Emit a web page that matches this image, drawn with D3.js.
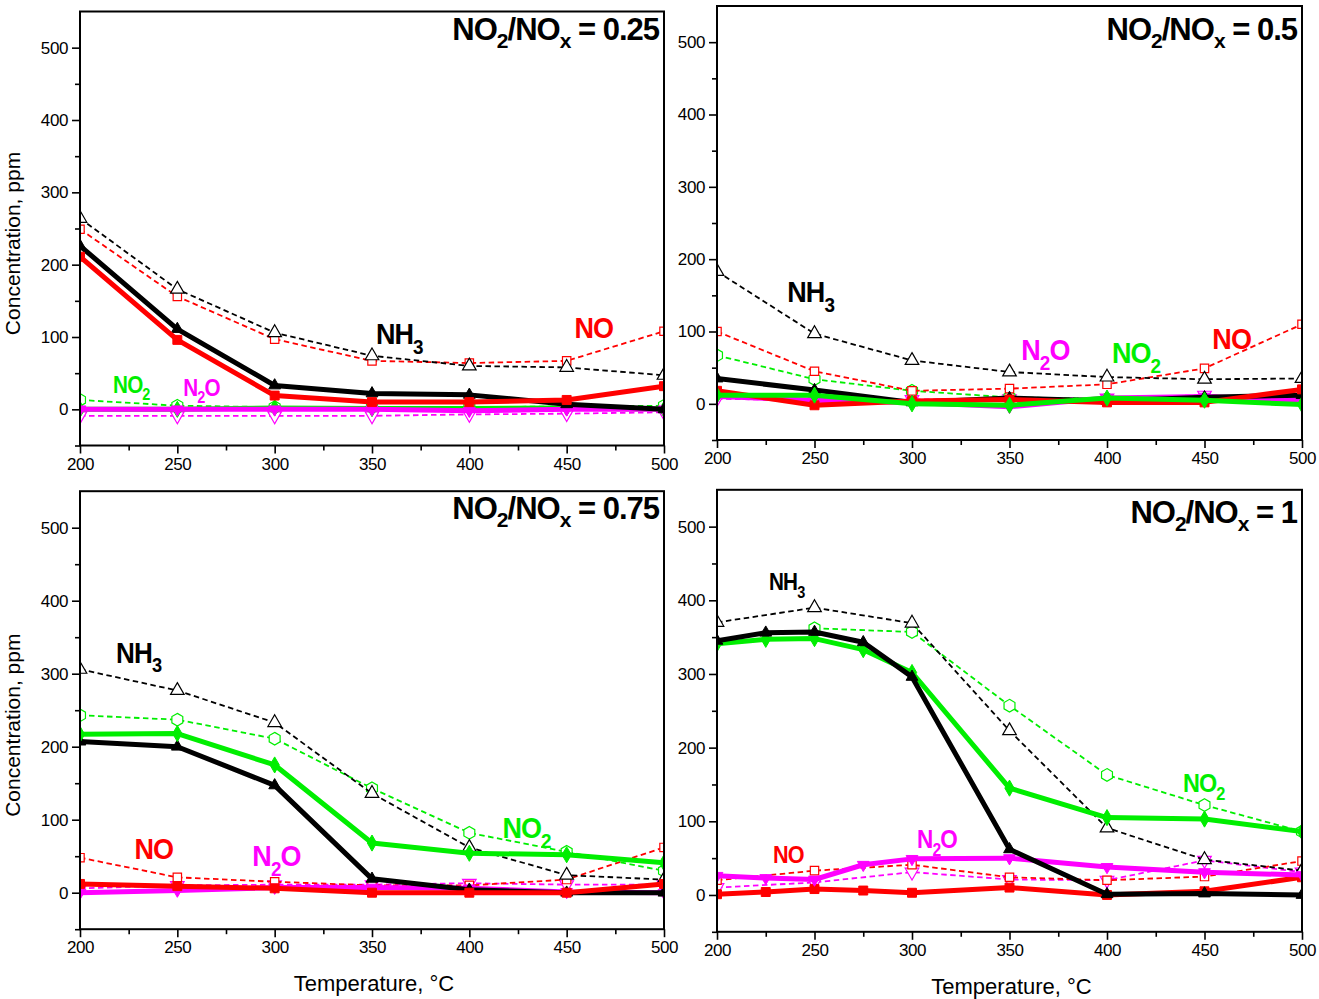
<!DOCTYPE html>
<html><head><meta charset="utf-8">
<script src="https://cdn.jsdelivr.net/npm/d3@7"></script>
<style>body{margin:0;background:#fff}svg{display:block}</style>
</head><body><svg id="c" width="1319" height="999"></svg>
<script>
// ---------- data ----------
const temps = [200,250,300,350,400,450,500];
const tempsFine = [200,225,250,275,300,350,400,450,500];
const xTicks = [200,250,300,350,400,450,500];
const xMinor = [225,275,325,375,425,475];
const yTicks = [0,100,200,300,400,500];
const yMinor = [-50,50,150,250,350,450];
const panelTitles = ["0.25","0.5","0.75","1"];

// NO2/NOx = 0.25  (dashed = open symbols, solid = filled symbols)
const a_NH3_in  = [264,166,106,74,60,58,47];
const a_NO_in   = [249,156,97,67,64,67,108];
const a_NO2_in  = [13,5,3,3,3,4,5];
const a_N2O_in  = [-9,-9,-9,-9,-7,-6,-4];
const a_NH3_out = [226,111,33,22,20,7,0];
const a_NO_out  = [211,96,19,10,10,13,32];
const a_NO2_out = [0,0,2,1,1,2,0];
const a_N2O_out = [0,0,0,0,-2,0,0];

// NO2/NOx = 0.5
const b_NH3_in  = [183,97,60,44,37,34,35];
const b_NO_in   = [100,45,18,21,27,49,110];
const b_NO2_in  = [67,34,18,9,7,6,4];
const b_N2O_in  = [7,5,6,7,8,12,6];
const b_NH3_out = [35,19,2,8,4,9,12];
const b_NO_out  = [18,-2,4,6,2,2,20];
const b_NO2_out = [12,12,0,-2,8,5,-1];
const b_N2O_out = [10,5,2,-4,8,10,5];

// NO2/NOx = 0.75
const c_NH3_in  = [306,277,233,136,62,24,18];
const c_NO_in   = [48,21,15,10,10,18,62];
const c_NO2_in  = [243,237,211,143,82,56,30];
const c_N2O_in  = [6,10,11,11,13,11,11];
const c_NH3_out = [207,200,147,19,4,0,0];
const c_NO_out  = [12,9,6,0,0,0,12];
const c_NO2_out = [217,218,175,68,54,52,41];
const c_N2O_out = [0,3,7,7,6,1,0];

// NO2/NOx = 1 (solid series measured on tempsFine)
const d_NH3_in  = [370,390,369,223,91,48,33];
const d_NO_in   = [20,33,41,24,20,25,46];
const d_NO2_in  = [null,362,357,257,163,122,86];
const d_N2O_in  = [10,17,31,21,20,47,31];
const d_NH3_out = [345,356,357,343,296,62,1,2,0];
const d_NO_out  = [1,4,8,6,3,10,0,5,24];
const d_NO2_out = [341,347,348,333,302,145,105,103,86];
const d_N2O_out = [26,23,21,41,49,50,38,31,27];

// ---------- styles ----------
const C = {NH3:"#000000", NO:"#ff0000", NO2:"#00ee00", N2O:"#ff00ff"};
const FONT = "'Liberation Sans', Arial, sans-serif";

const svg = d3.select("#c");

function mk(name, tx, ys, solid){ return {name, tx, ys, solid}; }

const panels = [
  {box:{l:80,r:664,t:11.5,b:445.5}, titleDy:28.5, yTitle:true, xTitle:false,
   series:[mk("N2O",temps,a_N2O_in,false),mk("NO2",temps,a_NO2_in,false),mk("NO",temps,a_NO_in,false),mk("NH3",temps,a_NH3_in,false),
           mk("NO2",temps,a_NO2_out,true),mk("N2O",temps,a_N2O_out,true),mk("NH3",temps,a_NH3_out,true),mk("NO",temps,a_NO_out,true)],
   labels:[["NH3",352,90,30],["NO",454,98,30],["NO2",217,23,23],["N2O",253,19,23]]},
  {box:{l:717,r:1302,t:6,b:440}, titleDy:34, yTitle:false, xTitle:false,
   series:[mk("N2O",temps,b_N2O_in,false),mk("NO2",temps,b_NO2_in,false),mk("NO",temps,b_NO_in,false),mk("NH3",temps,b_NH3_in,false),
           mk("N2O",temps,b_N2O_out,true),mk("NH3",temps,b_NH3_out,true),mk("NO",temps,b_NO_out,true),mk("NO2",temps,b_NO2_out,true)],
   labels:[["NH3",236,141,30],["N2O",356,61,30],["NO2",402.5,56,30],["NO",454,76,30]]},
  {box:{l:80,r:664,t:491.2,b:929.2}, titleDy:28, yTitle:true, xTitle:true,
   series:[mk("N2O",temps,c_N2O_in,false),mk("NO",temps,c_NO_in,false),mk("NO2",temps,c_NO2_in,false),mk("NH3",temps,c_NH3_in,false),
           mk("N2O",temps,c_N2O_out,true),mk("NH3",temps,c_NH3_out,true),mk("NO2",temps,c_NO2_out,true),mk("NO",temps,c_NO_out,true)],
   labels:[["NH3",218.5,315,29],["NO",228,46,30],["N2O",288.5,37,30],["NO2",417,75,30]]},
  {box:{l:717,r:1302,t:489.8,b:931.8}, titleDy:33, yTitle:false, xTitle:true,
   series:[mk("N2O",temps,d_N2O_in,false),mk("NO",temps,d_NO_in,false),mk("NO2",temps,d_NO2_in,false),mk("NH3",temps,d_NH3_in,false),
           mk("NO",tempsFine,d_NO_out,true),mk("N2O",tempsFine,d_N2O_out,true),mk("NO2",tempsFine,d_NO2_out,true),mk("NH3",tempsFine,d_NH3_out,true)],
   labels:[["NH3",226.7,414,23],["NO",228.7,43,24],["N2O",302.6,64,25],["NO2",439,140,26]]}
];

const hexPath = r => { const p=[]; for(let i=0;i<6;i++){const a=Math.PI/3*i - Math.PI/2; p.push([r*Math.cos(a), r*Math.sin(a)]);} return "M"+p.map(q=>q.join(",")).join("L")+"Z"; };

function markerPath(name, solid){
  if(name==="NH3") return {d:d3.symbol(d3.symbolTriangle, solid?60:80)(), rot:0};
  if(name==="NO")  return {d:d3.symbol(d3.symbolSquare, solid?80:70)(), rot:0};
  if(name==="NO2") return solid ? {d:d3.symbol(d3.symbolDiamond, 75)(), rot:0} : {d:hexPath(6.3), rot:0};
  return {d:d3.symbol(d3.symbolTriangle, solid?60:80)(), rot:180};
}

function subText(sel, name, size){
  const parts = {NH3:[["NH",0],["3",1]], NO:[["NO",0]], NO2:[["NO",0],["2",1]], N2O:[["N",0],["2",1],["O",0]]}[name];
  let shifted = false;
  parts.forEach(([t,s])=>{
    const ts = sel.append("tspan").text(t);
    if(s){ ts.attr("font-size", size*0.7).attr("dy", size*0.33); shifted=true; }
    else if(shifted){ ts.attr("dy", -size*0.33); shifted=false; }
  });
}

panels.forEach((P,pi)=>{
  const b = P.box;
  const x = d3.scaleLinear().domain([200,500]).range([b.l,b.r]);
  const y = d3.scaleLinear().domain([-50,550]).range([b.b,b.t]);
  const g = svg.append("g");
  const clipId = "clip"+pi;
  g.append("clipPath").attr("id",clipId).append("rect")
    .attr("x",b.l).attr("y",b.t).attr("width",b.r-b.l).attr("height",b.b-b.t);
  const plot = g.append("g").attr("clip-path",`url(#${clipId})`);

  P.series.forEach(S=>{
    const col = C[S.name];
    const pts = S.tx.map((t,i)=>[t,S.ys[i]]);
    const line = d3.line().defined(d=>d[1]!=null).x(d=>x(d[0])).y(d=>y(d[1]));
    plot.append("path").attr("d",line(pts)).attr("fill","none").attr("stroke",col)
      .attr("stroke-width", S.solid?5:1.8).attr("stroke-dasharray", S.solid?null:"5.5,3.5")
      .attr("stroke-linejoin","round");
    const m = markerPath(S.name,S.solid);
    plot.selectAll(null).data(pts.filter(d=>d[1]!=null)).enter().append("path")
      .attr("d",m.d)
      .attr("transform",d=>`translate(${x(d[0])},${y(d[1])}) rotate(${m.rot})`)
      .attr("fill", S.solid?col:"#fff").attr("stroke",col).attr("stroke-width", S.solid?1:1.2);
  });

  // axes
  const fmt = d3.format("d");
  const ax = g.append("g").attr("transform",`translate(0,${b.b})`)
    .call(d3.axisBottom(x).tickValues(xTicks).tickSize(8).tickPadding(4).tickFormat(fmt));
  const axm = g.append("g").attr("transform",`translate(0,${b.b})`)
    .call(d3.axisBottom(x).tickValues(xMinor).tickSize(5).tickFormat(""));
  const ay = g.append("g").attr("transform",`translate(${b.l},0)`)
    .call(d3.axisLeft(y).tickValues(yTicks).tickSize(8).tickPadding(4).tickFormat(fmt));
  const aym = g.append("g").attr("transform",`translate(${b.l},0)`)
    .call(d3.axisLeft(y).tickValues(yMinor).tickSize(5).tickFormat(""));
  [ax,axm,ay,aym].forEach(a=>{
    a.select(".domain").remove();
    a.selectAll("line").attr("stroke","#000").attr("stroke-width",1.6);
    a.selectAll("text").attr("font-family",FONT).attr("font-size",17).attr("letter-spacing",-0.4).attr("fill","#000");
  });
  g.append("rect").attr("x",b.l).attr("y",b.t).attr("width",b.r-b.l).attr("height",b.b-b.t)
    .attr("fill","none").attr("stroke","#000").attr("stroke-width",2);

  // title
  const tt = g.append("text").attr("x",b.r-5).attr("y",b.t+P.titleDy).attr("text-anchor","end")
    .attr("font-family",FONT).attr("font-weight","bold").attr("font-size",31).attr("letter-spacing",-1).attr("fill","#000");
  tt.append("tspan").text("NO");
  tt.append("tspan").text("2").attr("font-size",21).attr("dy",8);
  tt.append("tspan").text("/NO").attr("dy",-8);
  tt.append("tspan").text("x").attr("font-size",21).attr("dy",8);
  tt.append("tspan").text(" = "+panelTitles[pi]).attr("dy",-8);

  // series labels (tall, slightly condensed lettering)
  P.labels.forEach(([name,t,v,size])=>{
    const tx = g.append("text")
      .attr("transform",`translate(${x(t)},${y(v)}) scale(0.9,1)`)
      .attr("font-family",FONT).attr("font-weight","bold").attr("font-size",size)
      .attr("letter-spacing",-1).attr("fill",C[name]);
    subText(tx,name,size);
  });

  if(P.yTitle){
    g.append("text").attr("transform",`translate(20,${(b.t+b.b)/2+15}) rotate(-90)`)
      .attr("text-anchor","middle").attr("font-family",FONT).attr("font-size",21).attr("fill","#000")
      .text("Concentration, ppm");
  }
  if(P.xTitle){
    g.append("text").attr("x",(b.l+b.r)/2+2).attr("y",b.b+62)
      .attr("text-anchor","middle").attr("font-family",FONT).attr("font-size",22).attr("fill","#000")
      .text("Temperature, °C");
  }
});
</script></body></html>
